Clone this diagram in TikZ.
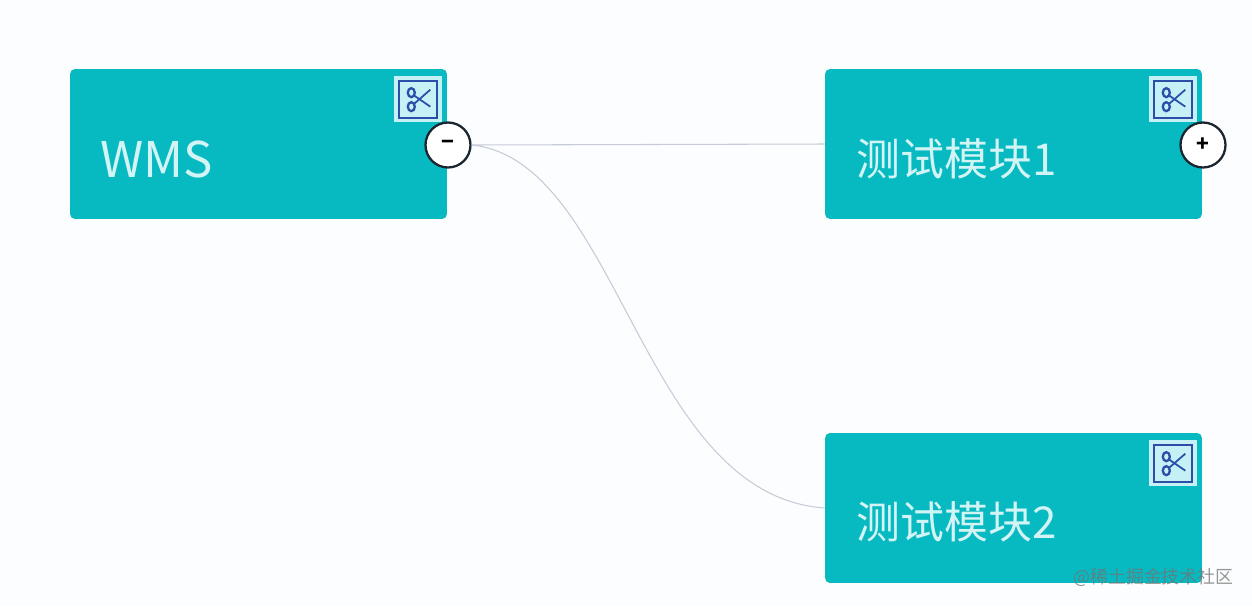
\documentclass[tikz,border=0pt]{standalone}
\usepackage{fontspec}
\setmainfont{Noto Sans CJK SC}
\usetikzlibrary{calc}
\definecolor{modteal}{HTML}{07BAC2}
\definecolor{modtext}{HTML}{D3F4F5}
\definecolor{cutblue}{HTML}{2B4FA8}
\definecolor{cutlight}{HTML}{C4F0F6}
\definecolor{linkgrey}{HTML}{C6CBD8}
\definecolor{pagebg}{HTML}{FCFDFE}
\definecolor{btnedge}{HTML}{1B2630}
\tikzset{
    modbox/.style={fill=modteal, rounded corners=.1cm, minimum width=7.54cm, minimum height=3cm},
    modlabel/.style={anchor=west, text=modtext, font=\fontsize{25}{30}\selectfont, inner sep=0pt},
    cutframe/.style={fill=cutlight, draw=cutblue, line width=1pt, minimum width=.76cm, minimum height=.74cm, inner sep=0pt, outer sep=0pt},
    foldbtn/.style={circle, fill=white, draw=btnedge, line width=1.3pt, minimum size=.9cm, inner sep=0pt, font=\fontsize{12}{12}\selectfont\bfseries},
    link/.style={draw=linkgrey, line width=.6pt},
    cutmark/.pic={
        \draw[cutblue, line width=1.3pt] (-7,-7) ellipse (3.5 and 4.5);
        \draw[cutblue, line width=1.3pt] (-7,7) ellipse (3.5 and 4.5);
        \draw[cutblue, line width=1pt] (-4,-4) -- (12,7);
        \draw[cutblue, line width=1pt] (-4,4) -- (12,-10);
    },
}
\begin{document}
\begin{tikzpicture}[x=.02cm,y=-.02cm]
    \useasboundingbox[fill=pagebg] (0,0) rectangle (1252,606);
    \node[modbox] (wms) at (258.5,144) {};
    \node[modbox] (mod1) at (1013.5,144) {};
    \node[modbox] (mod2) at (1013.5,508) {};
    \node[modlabel, font=\fontsize{28}{30}\selectfont] (wmstext) at (100,159) {WMS};
    \node[modlabel] (mod1text) at (856,159) {测试模块1};
    \node[modlabel] (mod2text) at (856,522) {测试模块2};
    \foreach \m in {wms,mod1,mod2} {
        \fill[cutlight] ($(\m.north east)+(-53,7)$) rectangle ($(\m.north east)+(-5,53)$);
        \node[cutframe] (cut\m) at ($(\m.north east)+(-29,31)$) {};
        \pic at (cut\m) {cutmark};
    }
    \node[foldbtn] (minus) at (448,145) {−};
    \node[foldbtn] (plus) at (1203,145) {+};
    \draw[link] (minus.east) -- (mod1.west);
    \draw[link] (minus.east) .. controls (620,160) and (640,495) .. (mod2.west);
    \node[anchor=east, text=black!55, opacity=.75, font=\fontsize{10.2}{12}\selectfont, inner sep=0pt] (mark) at (1234,577) {@稀土掘金技术社区};
\end{tikzpicture}
\end{document}
